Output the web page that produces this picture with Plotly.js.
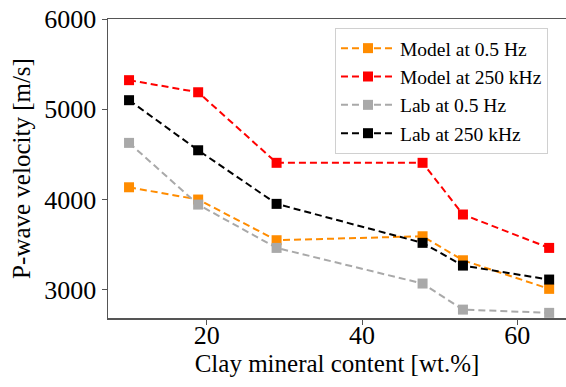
<!DOCTYPE html>
<html>
<head>
<meta charset="utf-8">
<script src="https://cdn.plot.ly/plotly-3.0.1.min.js"></script>
<style>
  html, body { margin: 0; padding: 0; background: #fff; }
  #chart { width: 566px; height: 387px; }
</style>
</head>
<body>
<div id="chart"></div>
<script>
const clayContent = [10, 18.9, 29, 47.8, 53, 64.1];
const model05Hz = [4135, 3999, 3548, 3592, 3326, 3009];
const model250kHz = [5322, 5188, 4406, 4406, 3833, 3463];
const lab05Hz = [4627, 3943, 3463, 3068, 2779, 2743];
const lab250kHz = [5100, 4545, 3951, 3519, 3267, 3112];
const seriesNames = ['Model at 0.5 Hz', 'Model at 250 kHz', 'Lab at 0.5 Hz', 'Lab at 250 kHz'];
const seriesColors = ['#ff8c00', '#ff0000', '#a9a9a9', '#000000'];
const yTickVals = [3000, 4000, 5000, 6000];
const xTickVals = [20, 40, 60];

const seriesValues = [model05Hz, model250kHz, lab05Hz, lab250kHz];
const traces = seriesValues.map((vals, i) => ({
  x: clayContent,
  y: vals,
  name: seriesNames[i],
  type: 'scatter',
  mode: 'lines+markers',
  line: { color: seriesColors[i], width: 2, dash: '7px,4px' },
  marker: { symbol: 'square', size: 10, color: seriesColors[i] }
}));

const FAM = 'Liberation Serif';

const layout = {
  width: 566, height: 387,
  margin: { l: 108, r: 0, t: 19, b: 69 },
  paper_bgcolor: '#fff', plot_bgcolor: '#fff',
  font: { family: FAM, size: 20, color: '#000' },
  showlegend: true,
  legend: {
    x: 0.4956, y: 0.97, xanchor: 'left', yanchor: 'top',
    bgcolor: '#fff', bordercolor: '#d0d0d0', borderwidth: 1,
    font: { family: FAM, size: 19.5, color: '#000' },
    itemwidth: 54
  },
  xaxis: {
    range: [7.29, 66.27],
    tickvals: xTickVals,
    ticks: 'outside', ticklen: 5, tickcolor: '#555', tickwidth: 1,
    ticklabelstandoff: -12,
    showgrid: false, zeroline: false,
    showline: true, linecolor: '#555', linewidth: 1.5, mirror: true,
    tickfont: { family: FAM, size: 26, color: '#000' },
    title: { text: 'Clay mineral content [wt.%]', font: { family: FAM, size: 25, color: '#000' }, standoff: 3 },
    automargin: false
  },
  yaxis: {
    range: [2686, 6000],
    tickvals: yTickVals,
    ticks: 'outside', ticklen: 5, tickcolor: '#555', tickwidth: 1,
    showgrid: false, zeroline: false,
    showline: true, linecolor: '#555', linewidth: 1.5, mirror: true,
    tickfont: { family: FAM, size: 26, color: '#000' },
    title: { text: 'P-wave velocity [m/s]', font: { family: FAM, size: 25, color: '#000' }, standoff: 6 },
    automargin: false
  }
};

Plotly.newPlot('chart', traces, layout, { displayModeBar: false, staticPlot: true });
</script>
</body>
</html>
